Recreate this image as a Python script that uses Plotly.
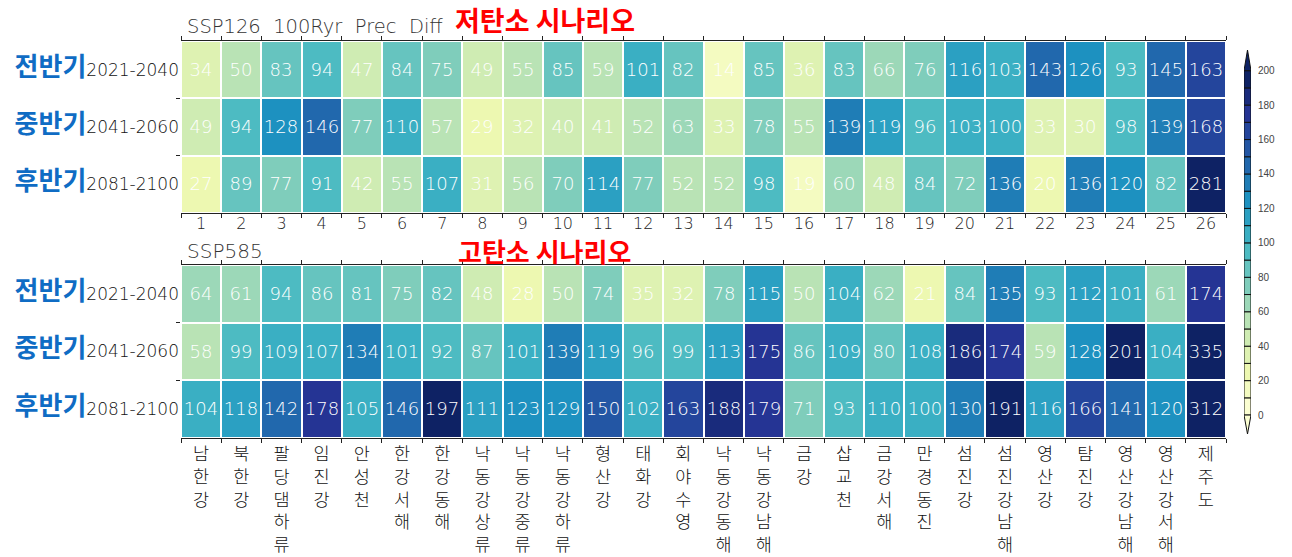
import plotly.graph_objects as go
from plotly.colors import sample_colorscale

# ---- data -------------------------------------------------------------
basin_ids = list(range(1, 27))
basin_names = [
    "남한강", "북한강", "팔당댐하류", "임진강", "안성천", "한강서해", "한강동해",
    "낙동강상류", "낙동강중류", "낙동강하류", "형산강", "태화강", "회야수영",
    "낙동강동해", "낙동강남해", "금강", "삽교천", "금강서해", "만경동진", "섬진강",
    "섬진강남해", "영산강", "탐진강", "영산강남해", "영산강서해", "제주도",
]
period_names = ["전반기", "중반기", "후반기"]
period_years = ["2021-2040", "2041-2060", "2081-2100"]

ssp126 = [
    [34, 50, 83, 94, 47, 84, 75, 49, 55, 85, 59, 101, 82, 14, 85, 36, 83, 66, 76, 116, 103, 143, 126, 93, 145, 163],
    [49, 94, 128, 146, 77, 110, 57, 29, 32, 40, 41, 52, 63, 33, 78, 55, 139, 119, 96, 103, 100, 33, 30, 98, 139, 168],
    [27, 89, 77, 91, 42, 55, 107, 31, 56, 70, 114, 77, 52, 52, 98, 19, 60, 48, 84, 72, 136, 20, 136, 120, 82, 281],
]
ssp585 = [
    [64, 61, 94, 86, 81, 75, 82, 48, 28, 50, 74, 35, 32, 78, 115, 50, 104, 62, 21, 84, 135, 93, 112, 101, 61, 174],
    [58, 99, 109, 107, 134, 101, 92, 87, 101, 139, 119, 96, 99, 113, 175, 86, 109, 80, 108, 186, 174, 59, 128, 201, 104, 335],
    [104, 118, 142, 178, 105, 146, 197, 111, 123, 129, 150, 102, 163, 188, 179, 71, 93, 110, 100, 130, 191, 116, 166, 141, 120, 312],
]

levels = list(range(0, 201, 10))          # colour bins
cbar_ticks = list(range(0, 201, 20))

# ---- page geometry ----------------------------------------------------
W, H = 1292, 557
def px_x(p): return p / W
def px_y(p): return 1 - p / H

# ---- stepped YlGnBu colour scale -------------------------------------
nb = len(levels) - 1
bin_colors = sample_colorscale("YlGnBu", [(i + 0.5) / nb for i in range(nb)])
colorscale = []
for i, c in enumerate(bin_colors):
    colorscale.append([i / nb, c])
    colorscale.append([(i + 1) / nb, c])

BLUE = "#0f6cc4"
THIN = "DejaVu Sans"
KR = "Noto Sans CJK KR"

row_ticktext = [
    f"<span style='font-family:{KR};font-size:26px;color:{BLUE};font-weight:bold'>{k}</span>"
    f"<span style='font-size:17px;color:#111;font-weight:300'>{y}</span>"
    for k, y in zip(period_names, period_years)
]

fig = go.Figure()

def add_map(z, xa, ya):
    fig.add_trace(go.Heatmap(
        z=z, x=basin_ids, y=[0, 1, 2],
        colorscale=colorscale, zmin=levels[0], zmax=levels[-1],
        xgap=2, ygap=2, showscale=False,
        texttemplate="%{z}",
        textfont=dict(family=THIN, size=18, color="white", weight=300),
        xaxis=xa, yaxis=ya, hoverinfo="skip",
    ))

add_map(ssp126, "x", "y")
add_map(ssp585, "x2", "y2")

# colour bar built as stacked bars
fig.add_trace(go.Bar(
    x=[0] * nb, y=[levels[i + 1] - levels[i] for i in range(nb)], base=levels[:-1],
    marker=dict(color=bin_colors, line=dict(color="#111", width=1)),
    width=1, xaxis="x3", yaxis="y3", hoverinfo="skip", showlegend=False,
))
# end triangles of the colour bar
fig.add_trace(go.Scatter(
    x=[-0.5, 0.5, 0, -0.5], y=[levels[-1], levels[-1], levels[-1] + 12, levels[-1]],
    fill="toself", fillcolor=bin_colors[-1], mode="lines",
    line=dict(color="#111", width=1), xaxis="x3", yaxis="y3",
    hoverinfo="skip", showlegend=False,
))
fig.add_trace(go.Scatter(
    x=[-0.5, 0.5, 0, -0.5], y=[levels[0], levels[0], levels[0] - 11, levels[0]],
    fill="toself", fillcolor=bin_colors[0], mode="lines",
    line=dict(color="#111", width=1), xaxis="x3", yaxis="y3",
    hoverinfo="skip", showlegend=False,
))

bounds_x = [i + 0.5 for i in range(0, 27)]
bounds_y = [0.5, 1.5]
x_dom = [px_x(181), px_x(1226)]

common_x = dict(
    domain=x_dom, range=[0.5, 26.5], showgrid=False, zeroline=False,
    showline=True, linecolor="#222", linewidth=1, mirror="allticks",
    ticks="", minor=dict(tickvals=bounds_x, ticks="outside", ticklen=4,
                         tickcolor="#222", showgrid=False),
)
common_y = dict(
    range=[2.5, -0.5], showgrid=False, zeroline=False, showline=False,
    mirror="allticks", tickvals=[0, 1, 2], ticktext=row_ticktext, ticks="",
    tickfont=dict(family=THIN, size=17, color="#111"),
    minor=dict(tickvals=bounds_y, ticks="outside", ticklen=4,
               tickcolor="#222", showgrid=False),
    ticklabelstandoff=1,
)

fig.update_layout(
    width=W, height=H, margin=dict(l=0, r=0, t=0, b=0),
    paper_bgcolor="white", plot_bgcolor="white", showlegend=False,
    barmode="overlay",
    xaxis=dict(**common_x, anchor="y", tickvals=basin_ids,
               ticktext=[str(i) for i in basin_ids], ticklabelstandoff=-4,
               tickfont=dict(family=THIN, size=16, color="#222", weight=300)),
    yaxis=dict(**common_y, domain=[px_y(213), px_y(41)], anchor="x"),
    xaxis2=dict(**common_x, anchor="y2", tickvals=basin_ids,
                ticktext=["<br>".join(n) for n in basin_names],
                tickfont=dict(family=KR, size=17.5, color="#111", weight=300)),
    yaxis2=dict(**common_y, domain=[px_y(438), px_y(265)], anchor="x2"),
    xaxis3=dict(domain=[px_x(1244), px_x(1251)], range=[-0.5, 0.5],
                visible=False, anchor="y3"),
    yaxis3=dict(domain=[px_y(434), px_y(50)], range=[-11, 212], anchor="x3",
                side="right", showgrid=False, zeroline=False, showline=False,
                tickvals=cbar_ticks, ticks="", ticklabelstandoff=6,
                tickfont=dict(family="Liberation Sans", size=10, color="#444")),
)

annotations = [
    dict(text="SSP126  100Ryr  Prec  Diff", x=px_x(185), y=px_y(26),
         font=dict(family=THIN, size=19.5, color="#333", weight=300)),
    dict(text="<b>저탄소 시나리오</b>", x=px_x(453), y=px_y(19),
         font=dict(family=KR, size=27, color="#ff0000")),
    dict(text="SSP585", x=px_x(185), y=px_y(251),
         font=dict(family=THIN, size=20, color="#333", weight=300)),
    dict(text="<b>고탄소 시나리오</b>", x=px_x(457), y=px_y(250),
         font=dict(family=KR, size=26, color="#ff0000"), borderpad=0),
]
for a in annotations:
    fig.add_annotation(xref="paper", yref="paper", xanchor="left",
                       yanchor="middle", showarrow=False, **a)

fig.write_html("out.html")
